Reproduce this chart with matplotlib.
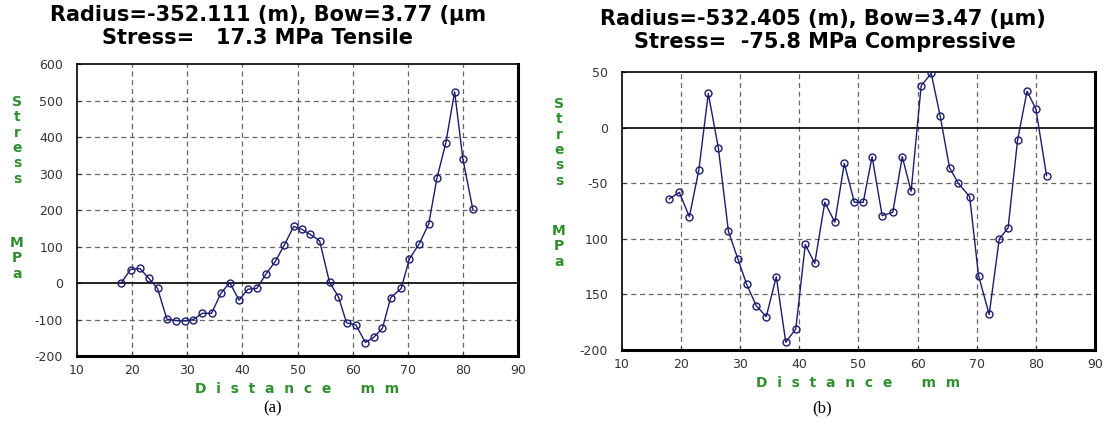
import matplotlib
matplotlib.use("Agg")
import matplotlib.pyplot as plt

# sample positions (mm), shared by both scans
distance = [18.0, 19.7, 21.4, 23.0, 24.6, 26.3, 28.0, 29.6, 31.1, 32.7,
            34.4, 36.1, 37.7, 39.4, 41.0, 42.6, 44.3, 46.0, 47.6, 49.3,
            50.8, 52.3, 54.0, 55.8, 57.4, 58.9, 60.6, 62.3, 63.8, 65.4,
            66.9, 68.8, 70.3, 72.1, 73.8, 75.3, 76.9, 78.5, 80.0, 81.8]

stress_a = [0, 37, 40, 13, -15, -99, -103, -104, -100, -83,
            -83, -28, 1, -47, -17, -15, 25, 60, 104, 155,
            147, 133, 116, 2, -37, -109, -115, -163, -149, -124,
            -40, -15, 66, 108, 162, 288, 384, 524, 339, 202]

stress_b = [-64, -58, -80, -38, 31, -18, -93, -118, -141, -160,
            -170, -134, -193, -181, -105, -122, -67, -85, -32, -67,
            -67, -26, -79, -76, -26, -57, 38, 49, 11, -36,
            -50, -62, -133, -168, -100, -90, -11, 33, 17, -43]

titles_a = ["Radius=-352.111 (m), Bow=3.77 (\u00b5m", "Stress=   17.3 MPa Tensile"]
titles_b = ["Radius=-532.405 (m), Bow=3.47 (\u00b5m)", "Stress=  -75.8 MPa Compressive"]

xticks = [10, 20, 30, 40, 50, 60, 70, 80, 90]
yticks_a = [-200, -100, 0, 100, 200, 300, 400, 500, 600]
yticks_b = [-200, -150, -100, -50, 0, 50]
ytick_labels_b = ["-200", "150", "100", "-50", "0", "50"]

NAVY = "#1c1c6e"
GREEN = "#2f8f2f"
TICK = "#333333"

fig = plt.figure(figsize=(11.15, 4.28), dpi=100)


def draw_panel(rect, y, ylim, yticks, ylabels, grid_y):
    ax = fig.add_axes(rect)
    ax.plot(distance, y, color=NAVY, lw=1.0, marker="o", ms=5,
            mfc="none", mec=NAVY, mew=1.0, zorder=3)
    ax.set_xlim(10, 90)
    ax.set_ylim(*ylim)
    ax.set_xticks(xticks)
    ax.set_yticks(yticks)
    ax.set_yticklabels(ylabels)
    ax.tick_params(labelsize=9, colors=TICK, direction="in", length=3,
                   pad=10)
    ax.tick_params(axis="x", pad=6)
    for x in xticks[1:-1]:
        ax.axvline(x, color="#666666", lw=0.9, ls=(0, (4, 3)), zorder=1)
    for v in grid_y:
        ax.axhline(v, color="#666666", lw=0.9, ls=(0, (4, 3)), zorder=1)
    ax.axhline(0, color="black", lw=1.2, zorder=2)
    for side in ["top", "left"]:
        ax.spines[side].set_linewidth(1.2)
    for side in ["bottom", "right"]:
        ax.spines[side].set_linewidth(2.2)
    ax.set_xlabel("D  i  s  t  a  n  c  e      m  m", color=GREEN,
                  fontsize=10, fontweight="bold", labelpad=3)
    return ax


ax_a = draw_panel([0.0691, 0.1682, 0.3955, 0.6822], stress_a, (-200, 600),
                  yticks_a, [str(v) for v in yticks_a],
                  [-100, 100, 200, 300, 400, 500])
ax_b = draw_panel([0.5578, 0.1822, 0.4243, 0.6488], stress_b, (-200, 50),
                  yticks_b, ytick_labels_b, [-150, -100, -50])

# titles
fig.text(0.240, 0.965, titles_a[0], ha="center", va="center",
         fontsize=15, fontweight="bold")
fig.text(0.231, 0.911, titles_a[1], ha="center", va="center",
         fontsize=15, fontweight="bold")
fig.text(0.738, 0.955, titles_b[0], ha="center", va="center",
         fontsize=15, fontweight="bold")
fig.text(0.740, 0.903, titles_b[1], ha="center", va="center",
         fontsize=15, fontweight="bold")

# stacked y labels
for x, y1, y2 in [(17, 95, 236), (559, 97, 224)]:
    fig.text(x / 1115, 1 - y1 / 428, "S\nt\nr\ne\ns\ns", ha="center",
             va="top", color=GREEN, fontsize=10, fontweight="bold",
             linespacing=1.12)
    fig.text(x / 1115, 1 - y2 / 428, "M\nP\na", ha="center", va="top",
             color=GREEN, fontsize=10, fontweight="bold", linespacing=1.12)

# captions
fig.text(273 / 1115, 1 - 408 / 428, "(a)", ha="center", va="center",
         fontsize=12, family="Liberation Serif")
fig.text(822 / 1115, 1 - 408 / 428, "(b)", ha="center", va="center",
         fontsize=12, family="Liberation Serif")

fig.savefig("out.png", dpi=100)
